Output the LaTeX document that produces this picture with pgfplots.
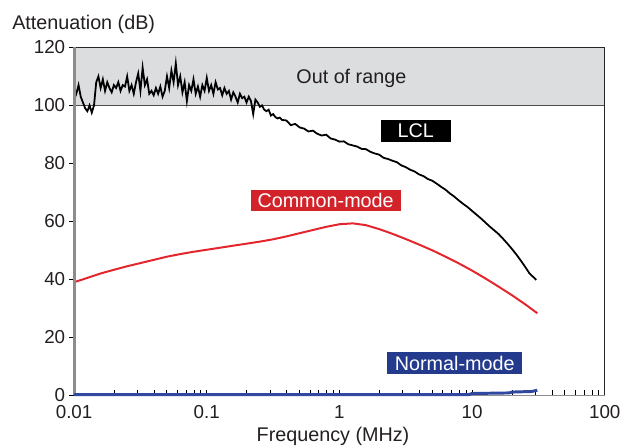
\documentclass[border=0pt]{standalone}
\usepackage{fontspec}
\setmainfont{Liberation Sans}
\usepackage{pgfplots}
\pgfplotsset{compat=1.18}
\definecolor{bandgray}{RGB}{220,221,223}
\definecolor{cmred}{RGB}{228,38,44}
\definecolor{cmbox}{RGB}{210,35,42}
\definecolor{nmblue}{RGB}{48,72,160}
\definecolor{nmbox}{RGB}{36,58,140}
\definecolor{axgray}{RGB}{140,140,140}
\definecolor{txt}{RGB}{35,31,32}

\begin{document}
\begin{tikzpicture}
\begin{axis}[
    at={(0,0)}, anchor=south west,
    scale only axis,
    width=268.5pt, height=176pt,
    xmode=log,
    xmin=0.01, xmax=100,
    ymin=0, ymax=120,
    axis x line*=bottom,
    axis y line*=left,
    x axis line style={draw=axgray, line width=0.6pt, -},
    y axis line style={draw=axgray, line width=1.5pt, -},
    xtick={0.01,0.1,1,10,100},
    xticklabels={0.01,0.1,1,10,100},
    ytick={0,20,40,60,80,100,120},
    xtick align=inside,
    ytick align=outside,
    major tick length=2.5pt,
    minor tick length=2.5pt,
    every tick/.style={black, line width=0.4pt},
    tick label style={font=\fontsize{9.5}{11}\selectfont, text=txt},
    xticklabel style={yshift=-1.5pt},
    yticklabel style={xshift=1.5pt},
    /pgf/number format/assume math mode=true,
    clip=false,
]
% out-of-range band
\fill[bandgray] (axis cs:0.01,100) rectangle (axis cs:100,120);
\draw[black!70, line width=0.6pt] (axis cs:0.01,100) -- (axis cs:100,100);
\draw[black!85, line width=0.5pt] (rel axis cs:0,1) -- (rel axis cs:1,1) -- (rel axis cs:1,0);
\node[font=\fontsize{10}{12}\selectfont, text=txt] at (axis cs:1.23,109.4) {Out of range};

% Common-mode
\addplot[cmred, line width=1pt] coordinates {
(0.01,39.0)(0.0126,40.5)(0.0158,42.0)(0.02,43.3)(0.0251,44.5)(0.0316,45.6)
(0.0398,46.7)(0.05,47.8)(0.063,48.7)(0.0794,49.5)(0.1,50.2)(0.126,50.9)
(0.158,51.6)(0.2,52.3)(0.251,53.0)(0.316,53.8)(0.398,54.8)(0.5,55.9)
(0.63,57.0)(0.794,58.1)(1.0,59.0)(1.26,59.3)(1.58,58.7)(2.0,57.3)
(2.51,55.7)(3.16,53.9)(3.98,52.0)(5.01,50.0)(6.31,47.8)(7.94,45.5)
(10,43.0)(12.6,40.3)(15.8,37.5)(20,34.5)(25.1,31.4)(31,28.3)
};

% LCL
\addplot[black, line width=0.9pt] coordinates {
(0.01000,102)(0.01039,104)(0.01080,107)(0.01122,103)(0.01166,101)(0.01212,99)
(0.01259,98)(0.01308,100)(0.01359,97.5)(0.01413,100)(0.01468,108)(0.01525,110)
(0.01585,106)(0.01647,109)(0.01711,105)(0.01778,108)(0.01848,106)(0.01920,104.5)
(0.01995,107)(0.02073,106)(0.02154,108)(0.02239,105)(0.02326,107)(0.02418,106.5)
(0.02512,110)(0.02610,105)(0.02712,107)(0.02818,104)(0.02929,108)(0.03043,111)
(0.03162,105)(0.03286,113)(0.03415,107)(0.03548,109)(0.03687,104)(0.03831,105)
(0.03981,103.5)(0.04137,106)(0.04299,104)(0.04467,106.5)(0.04642,103)(0.04823,105)
(0.05012,110)(0.05208,106)(0.05412,112)(0.05623,108)(0.05843,114.5)(0.06072,107)
(0.06310,110)(0.06556,104.5)(0.06813,108)(0.07079,101.5)(0.07356,107)(0.07645,105)
(0.07943,109)(0.08254,104)(0.08577,106.5)(0.08913,103)(0.09261,107)(0.09624,105)
(0.1000,109.5)(0.1039,105)(0.1080,107)(0.1122,104)(0.1166,108)(0.1212,105.5)
(0.1259,106)(0.1308,103.5)(0.1359,106)(0.1413,104)(0.1468,105)(0.1525,102)
(0.1585,104.5)(0.1647,103)(0.1711,101)(0.1778,104)(0.1848,102.5)(0.1920,103)
(0.1995,101)(0.2073,103)(0.2154,101.5)(0.2239,97)(0.2326,102)(0.2418,101)
(0.2512,99.5)(0.2610,100)(0.2712,98.5)(0.2818,98)(0.2929,98.5)(0.3043,96.5)
(0.3162,97)(0.3286,96)(0.3415,95.5)(0.3548,95.8)(0.3687,95)
(0.3981,94.8)(0.4299,93.2)(0.4642,93.6)(0.5012,92.4)(0.5412,92.0)(0.5843,91.0)
(0.6310,91.3)(0.6813,90.2)(0.7356,89.6)(0.7943,89.9)(0.8577,88.6)(0.9261,88.2)
(1.000,87.5)(1.080,87.6)(1.166,86.6)(1.259,86.2)(1.359,85.8)(1.468,85.0)
(1.585,84.9)(1.711,84.0)(1.848,83.4)(1.995,83.0)(2.154,81.9)(2.326,81.5)
(2.512,80.9)(2.712,80.4)(2.929,79.3)(3.162,78.7)(3.415,77.8)(3.687,77.2)
(3.981,76.2)(4.299,75.6)(4.642,74.6)(5.012,74.0)(5.412,73.0)(5.843,71.9)
(6.310,70.9)(6.813,69.6)(7.356,68.5)(7.943,67.2)(8.577,66.0)(9.261,64.9)
(10.00,63.6)(10.80,62.3)(11.66,61.0)(12.59,59.6)(13.59,58.2)(14.68,56.9)
(15.85,55.6)(17.11,54.0)(18.48,52.3)(19.95,50.5)(21.54,48.6)(23.26,46.5)
(25.12,44.3)(27.12,42.0)(30.5,39.8)
};

% left axis line redrawn over the band
\draw[axgray, line width=1.5pt] (rel axis cs:0,0) -- (rel axis cs:0,1);

% Normal-mode
\addplot[nmblue, line width=1.5pt] coordinates {
(0.01,0.2)(1,0.2)(9.5,0.25)(10,0.6)(19,0.8)(20,1.1)(28,1.3)(31,1.7)
};

\node[fill=black, text=white, font=\fontsize{10}{12}\selectfont,
      minimum width=35.5pt, minimum height=11.5pt, inner sep=0pt]
      at (axis cs:3.76,91.2) {LCL};
\node[fill=cmbox, text=white, font=\fontsize{10}{12}\selectfont,
      minimum width=76pt, minimum height=11pt, inner sep=0pt]
      at (axis cs:0.787,67.2) {Common-mode};
\node[fill=nmbox, text=white, font=\fontsize{10}{12}\selectfont,
      minimum width=68.5pt, minimum height=11.5pt, inner sep=0pt]
      at (axis cs:7.40,11.1) {Normal-mode};
\end{axis}
\node[anchor=base west, inner sep=0pt, text=txt, font=\fontsize{10}{12}\selectfont]
     at (-31.5pt,185pt) {Attenuation (dB)};
\node[anchor=base, inner sep=0pt, text=txt, font=\fontsize{10}{12}\selectfont]
     at (131pt,-23.5pt) {Frequency (MHz)};
\path[use as bounding box] (-37.5pt,-26.5pt) rectangle (276pt,200pt);
\end{tikzpicture}
\end{document}
